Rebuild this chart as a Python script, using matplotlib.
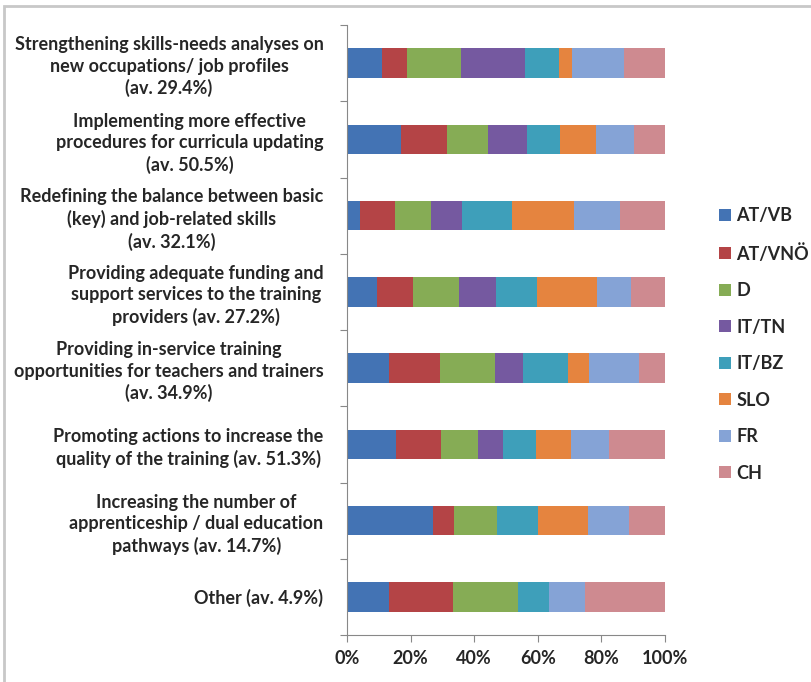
import matplotlib
matplotlib.use("Agg")
import matplotlib.pyplot as plt
import numpy as np
from matplotlib.patches import Rectangle

measures = [
    "Strengthening skills-needs analyses on\nnew occupations/ job profiles\n(av. 29.4%)",
    "Implementing more effective\nprocedures for curricula updating\n(av. 50.5%)",
    "Redefining the balance between basic\n(key) and job-related skills\n(av. 32.1%)",
    "Providing adequate funding and\nsupport services to the training\nproviders (av. 27.2%)",
    "Providing in-service training\nopportunities for teachers and trainers\n(av. 34.9%)",
    "Promoting actions to increase the\nquality of the training (av. 51.3%)",
    "Increasing the number of\napprenticeship / dual education\npathways (av. 14.7%)",
    "Other (av. 4.9%)",
]

regions = ["AT/VB", "AT/VNÖ", "D", "IT/TN", "IT/BZ", "SLO", "FR", "CH"]

# share of each region per measure (%)
at_vb  = [11.1, 16.9,  4.0,  9.5, 13.2, 15.3, 26.9, 13.3]
at_vno = [ 7.9, 14.4, 11.2, 11.2, 16.0, 14.2,  6.7, 20.1]
d      = [17.0, 12.9, 11.1, 14.6, 17.3, 11.7, 13.7, 20.5]
it_tn  = [19.9, 12.4,  9.8, 11.4,  8.8,  7.8,  0.0,  0.0]
it_bz  = [10.7, 10.3, 15.7, 12.9, 14.3, 10.5, 12.8,  9.6]
slo    = [ 4.2, 11.4, 19.6, 18.9,  6.6, 11.0, 15.8,  0.0]
fr     = [16.4, 11.9, 14.4, 10.8, 15.5, 11.8, 12.7, 11.3]
ch     = [12.8,  9.8, 14.2, 10.7,  8.3, 17.7, 11.4, 25.2]

colors = ["#4373B4", "#B44446", "#86AC55", "#7559A0",
          "#3E9FBA", "#E5843F", "#85A3D6", "#CE8A90"]

plt.rcParams['font.family'] = ['Lato', 'DejaVu Sans']
plt.rcParams['font.weight'] = 'bold'

fig = plt.figure(figsize=(8.12, 6.82), dpi=100)
ax = fig.add_axes([347/812, 47/682, 318/812, 610/682])

data = np.array([at_vb, at_vno, d, it_tn, it_bz, slo, fr, ch])
data = data / data.sum(axis=0) * 100
y = np.arange(len(measures))
left = np.zeros(len(measures))
for vals, name, c in zip(data, regions, colors):
    ax.barh(y, vals, left=left, height=0.39, color=c, label=name)
    left += vals

ax.set_xlim(0, 100)
ax.set_ylim(len(measures) - 0.5, -0.5)
ax.set_xticks(np.arange(0, 101, 20))
ax.set_xticklabels(["%d%%" % v for v in range(0, 101, 20)], fontsize=13,
                   color="#262626")
ax.set_yticks(np.arange(-0.5, len(measures)))
ax.set_yticklabels([])
ax.set_yticks(y, minor=True)
ax.set_yticklabels(measures, minor=True, fontsize=13, color="#262626",
                   multialignment="center", linespacing=1.3)
ax.tick_params(axis="y", which="minor", length=0, pad=17)
ax.tick_params(axis="y", which="major", length=5, color="#888888", direction="out")
ax.tick_params(axis="x", length=5, color="#888888", direction="out", pad=6)
for s in ["top", "right"]:
    ax.spines[s].set_visible(False)
ax.spines["left"].set_color("#888888")
ax.spines["bottom"].set_color("#888888")

ax.legend(loc="upper left", bbox_to_anchor=(703/812, 1 - 191/682),
          bbox_transform=fig.transFigure, frameon=False, fontsize=13,
          handlelength=0.65, handleheight=0.65, handletextpad=0.3,
          labelspacing=1.08, labelcolor="#262626")

fig.patches.append(Rectangle((4/812, -0.01), 1.0, 1 - 6/682 + 0.01,
                             transform=fig.transFigure, fill=False,
                             edgecolor="#c8c8c8", linewidth=2))

fig.savefig("out.png", dpi=100)
